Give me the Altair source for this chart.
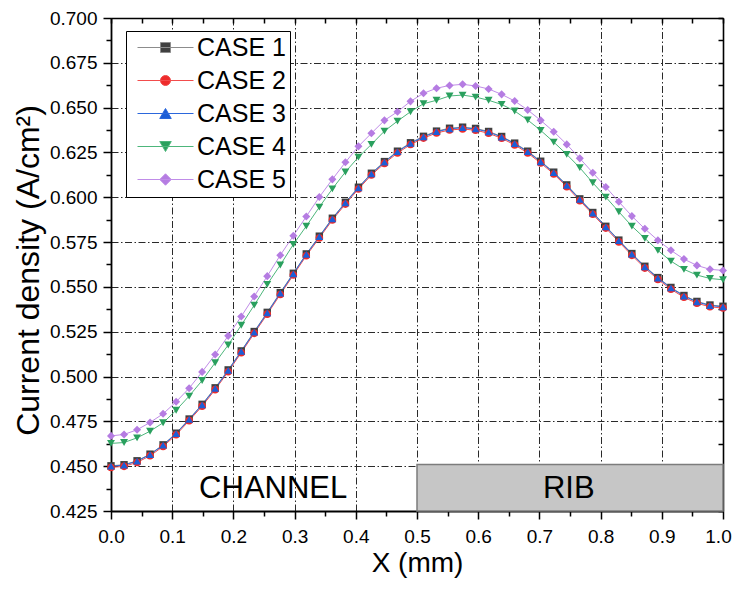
import altair as alt
import pandas as pd

x_mm = [0.0000, 0.0213, 0.0426, 0.0638, 0.0851, 0.1064, 0.1277, 0.1489, 0.1702, 0.1915,
        0.2128, 0.2340, 0.2553, 0.2766, 0.2979, 0.3191, 0.3404, 0.3617, 0.3830, 0.4043,
        0.4255, 0.4468, 0.4681, 0.4894, 0.5106, 0.5319, 0.5532, 0.5745, 0.5957, 0.6170,
        0.6383, 0.6596, 0.6809, 0.7021, 0.7234, 0.7447, 0.7660, 0.7872, 0.8085, 0.8298,
        0.8511, 0.8723, 0.8936, 0.9149, 0.9362, 0.9574, 0.9787, 1.0000]

case1 = [0.4502, 0.4508, 0.4530, 0.4567, 0.4619, 0.4684, 0.4763, 0.4845, 0.4937, 0.5037,
         0.5143, 0.5251, 0.5358, 0.5468, 0.5576, 0.5684, 0.5783, 0.5883, 0.5972, 0.6056,
         0.6134, 0.6199, 0.6257, 0.6304, 0.6340, 0.6369, 0.6385, 0.6391, 0.6384, 0.6367,
         0.6339, 0.6302, 0.6257, 0.6201, 0.6140, 0.6069, 0.5991, 0.5915, 0.5838, 0.5761,
         0.5686, 0.5615, 0.5552, 0.5497, 0.5452, 0.5419, 0.5399, 0.5392]

case2 = [0.4493, 0.4499, 0.4521, 0.4558, 0.4610, 0.4675, 0.4754, 0.4835, 0.4927, 0.5027,
         0.5133, 0.5241, 0.5348, 0.5458, 0.5566, 0.5674, 0.5773, 0.5873, 0.5962, 0.6046,
         0.6124, 0.6189, 0.6247, 0.6294, 0.6330, 0.6359, 0.6375, 0.6381, 0.6374, 0.6357,
         0.6329, 0.6292, 0.6247, 0.6191, 0.6130, 0.6059, 0.5981, 0.5905, 0.5828, 0.5751,
         0.5676, 0.5605, 0.5542, 0.5487, 0.5442, 0.5409, 0.5389, 0.5382]

case3 = [0.4500, 0.4506, 0.4528, 0.4565, 0.4617, 0.4682, 0.4761, 0.4842, 0.4934, 0.5034,
         0.5140, 0.5248, 0.5355, 0.5465, 0.5573, 0.5681, 0.5780, 0.5880, 0.5969, 0.6053,
         0.6131, 0.6196, 0.6254, 0.6301, 0.6337, 0.6366, 0.6382, 0.6388, 0.6381, 0.6364,
         0.6336, 0.6299, 0.6254, 0.6198, 0.6137, 0.6066, 0.5988, 0.5912, 0.5835, 0.5758,
         0.5683, 0.5612, 0.5549, 0.5494, 0.5449, 0.5416, 0.5396, 0.5389]

case4 = [0.4627, 0.4632, 0.4658, 0.4695, 0.4742, 0.4812, 0.4891, 0.4978, 0.5077, 0.5176,
         0.5286, 0.5398, 0.5514, 0.5622, 0.5737, 0.5839, 0.5945, 0.6047, 0.6141, 0.6224,
         0.6295, 0.6369, 0.6425, 0.6477, 0.6522, 0.6541, 0.6565, 0.6570, 0.6559, 0.6541,
         0.6518, 0.6481, 0.6431, 0.6373, 0.6308, 0.6239, 0.6165, 0.6081, 0.6001, 0.5919,
         0.5839, 0.5771, 0.5704, 0.5644, 0.5598, 0.5566, 0.5547, 0.5540]

case5 = [0.4669, 0.4677, 0.4703, 0.4744, 0.4792, 0.4859, 0.4935, 0.5026, 0.5123, 0.5227,
         0.5335, 0.5447, 0.5560, 0.5677, 0.5785, 0.5893, 0.6001, 0.6100, 0.6195, 0.6284,
         0.6357, 0.6429, 0.6477, 0.6535, 0.6580, 0.6608, 0.6624, 0.6630, 0.6621, 0.6604,
         0.6574, 0.6537, 0.6487, 0.6429, 0.6366, 0.6295, 0.6217, 0.6137, 0.6057, 0.5975,
         0.5895, 0.5824, 0.5760, 0.5704, 0.5655, 0.5620, 0.5598, 0.5592]

cases = ["CASE 1", "CASE 2", "CASE 3", "CASE 4", "CASE 5"]
line_colors = ["#8c8c8c", "#f24c4c", "#2b67dc", "#4db67b", "#c08ce8"]
marker_colors = ["#404040", "#ee2b2b", "#1c5ed6", "#2aa05e", "#b57ce2"]
marker_shapes = ["square", "circle", "triangle-up", "triangle-down", "diamond"]
marker_sizes = [55, 65, 115, 100, 105]
legend_paths = [
    "M-1,0H10.2M3.6,-1H5.6V1H3.6Z",
    "M-1,0H10.2M5.6,0A1,1 0 1,1 3.6,0A1,1 0 1,1 5.6,0Z",
    "M-1,0H10.2M4.6,-1L5.75,1L3.45,1Z",
    "M-1,0H10.2M4.6,1L5.75,-1L3.45,-1Z",
    "M-1,0H10.2M4.6,-1.15L5.75,0L4.6,1.15L3.45,0Z",
]

x_major = [0.0, 0.1, 0.2, 0.3, 0.4, 0.5, 0.6, 0.7, 0.8, 0.9, 1.0]
x_minor = [0.05, 0.15, 0.25, 0.35, 0.45, 0.55, 0.65, 0.75, 0.85, 0.95]
x_all = [0.0, 0.05, 0.1, 0.15, 0.2, 0.25, 0.3, 0.35, 0.4, 0.45, 0.5,
         0.55, 0.6, 0.65, 0.7, 0.75, 0.8, 0.85, 0.9, 0.95, 1.0]
y_major = [0.425, 0.450, 0.475, 0.500, 0.525, 0.550, 0.575, 0.600, 0.625, 0.650, 0.675, 0.700]
y_minor = [0.4375, 0.4625, 0.4875, 0.5125, 0.5375, 0.5625, 0.5875, 0.6125, 0.6375, 0.6625, 0.6875]
y_all = [0.425, 0.4375, 0.450, 0.4625, 0.475, 0.4875, 0.500, 0.5125, 0.525, 0.5375, 0.550,
         0.5625, 0.575, 0.5875, 0.600, 0.6125, 0.625, 0.6375, 0.650, 0.6625, 0.675, 0.6875, 0.700]

region_labels = ["CHANNEL", "RIB"]
region_label_x = [0.265, 0.748]
region_label_y = [0.4375, 0.4375]
rib_x = [0.5, 1.0]
rib_y = [0.425, 0.451]

rows = []
for name, vals in zip(cases, [case1, case2, case3, case4, case5]):
    for xv, yv in zip(x_mm, vals):
        rows.append({"case": name, "x": xv, "y": yv})
df = pd.DataFrame(rows)

rib_df = pd.DataFrame({"x0": [rib_x[0]], "x1": [rib_x[1]], "y0": [rib_y[0]], "y1": [rib_y[1]]})
lab_df = pd.DataFrame({"label": region_labels, "lx": region_label_x, "ly": region_label_y})

W, H = 612, 493
FONT = "Liberation Sans"
xs = alt.Scale(domain=[0, 1], nice=False, zero=False)
ys = alt.Scale(domain=[0.425, 0.700], nice=False, zero=False)
GD = [7, 2.5, 1.5, 2.5]
GC = "#2a2a2a"

major_x = alt.Axis(orient="bottom", values=x_major, format=".1f", title="X (mm)",
                   grid=True, gridDash=GD, gridColor=GC, gridWidth=1,
                   tickSize=8, tickWidth=1.5, tickColor="black",
                   domainColor="black", domainWidth=1.8,
                   labelFont=FONT, labelFontSize=19, labelColor="black", labelPadding=8,
                   labelFlush=False,
                   labelOffset={"condition": {"test": "datum.value == 1", "value": -5}, "value": 0},
                   titleFont=FONT, titleFontSize=28, titleFontWeight="normal",
                   titleColor="black", titlePadding=3)
major_y = alt.Axis(orient="left", values=y_major, format=".3f", title="Current density (A/cm²)",
                   grid=True, gridDash=GD, gridColor=GC, gridWidth=1,
                   tickSize=8, tickWidth=1.5, tickColor="black",
                   domainColor="black", domainWidth=1.8,
                   labelFont=FONT, labelFontSize=19, labelColor="black", labelPadding=6,
                   labelFlush=False,
                   titleFont=FONT, titleFontSize=32, titleFontWeight="normal",
                   titleColor="black", titlePadding=4, titleY=252)
minor_x = alt.Axis(orient="bottom", values=x_minor, labels=False, domain=False, grid=False,
                   title=None, tickSize=5, tickWidth=1.5, tickColor="black")
minor_y = alt.Axis(orient="left", values=y_minor, labels=False, domain=False, grid=False,
                   title=None, tickSize=5, tickWidth=1.5, tickColor="black")
frame_x = alt.Axis(orient="bottom", offset=-H, values=x_all, labels=False, grid=False,
                   title=None, tickSize=5, tickWidth=1.5, tickColor="black",
                   domainColor="black", domainWidth=1.6)
frame_y = alt.Axis(orient="left", offset=-W, values=y_all, labels=False, grid=False,
                   title=None, tickSize=5, tickWidth=1.5, tickColor="black",
                   domainColor="black", domainWidth=1.6)

rib = alt.Chart(rib_df).mark_rect(fill="#c6c6c6", stroke="#7c7c7c", strokeWidth=1.5).encode(
    x=alt.X("x0:Q", scale=xs, axis=None),
    x2="x1:Q",
    y=alt.Y("y0:Q", scale=ys, axis=None),
    y2="y1:Q",
)

lines = alt.Chart(df).mark_line(strokeWidth=1).encode(
    x=alt.X("x:Q", scale=xs, axis=major_x),
    y=alt.Y("y:Q", scale=ys, axis=major_y),
    color=alt.Color("case:N", scale=alt.Scale(domain=cases, range=line_colors), legend=None),
)

points = alt.Chart(df).mark_point(filled=True, opacity=1).encode(
    x=alt.X("x:Q", scale=xs, axis=minor_x),
    y=alt.Y("y:Q", scale=ys, axis=minor_y),
    color=alt.Color("case:N", scale=alt.Scale(domain=cases, range=marker_colors), legend=None),
    shape=alt.Shape("case:N", scale=alt.Scale(domain=cases, range=marker_shapes), legend=None),
    size=alt.Size("case:N", scale=alt.Scale(domain=cases, range=marker_sizes), legend=None),
)

labels = alt.Chart(lab_df).mark_text(font=FONT, fontSize=31, color="black",
                                     align="center", baseline="middle").encode(
    x=alt.X("lx:Q", scale=xs, axis=None),
    y=alt.Y("ly:Q", scale=ys, axis=None),
    text="label:N",
)

leg = alt.Legend(title=None, orient="none", legendX=15, legendY=13, padding=4,
                 strokeColor="black", fillColor="white", cornerRadius=0,
                 labelFont=FONT, labelFontSize=25, labelColor="black", labelOffset=42,
                 rowPadding=7, symbolStrokeWidth=1, symbolSize=100, symbolOpacity=1)

legend_layer = alt.Chart(df).transform_filter("datum.x < -1").mark_point(
    filled=False, opacity=1, strokeWidth=1, size=100).encode(
    x=alt.X("x:Q", scale=xs, axis=frame_x),
    y=alt.Y("y:Q", scale=ys, axis=frame_y),
    color=alt.Color("case:N", scale=alt.Scale(domain=cases, range=line_colors), legend=leg),
    fill=alt.Fill("case:N", scale=alt.Scale(domain=cases, range=marker_colors), legend=leg),
    shape=alt.Shape("case:N", scale=alt.Scale(domain=cases, range=legend_paths), legend=leg),
)

chart = alt.layer(rib, lines, points, labels, legend_layer).resolve_scale(
    color="independent", fill="independent", shape="independent", size="independent"
).resolve_axis(
    x="independent", y="independent"
).properties(
    width=W, height=H,
    padding={"left": 103, "top": 10, "right": 9, "bottom": 69},
    autosize=alt.AutoSizeParams(type="none"),
).configure_view(stroke=None).configure(font=FONT)

chart.save("out.html", embed_options={"renderer": "svg", "actions": False})
